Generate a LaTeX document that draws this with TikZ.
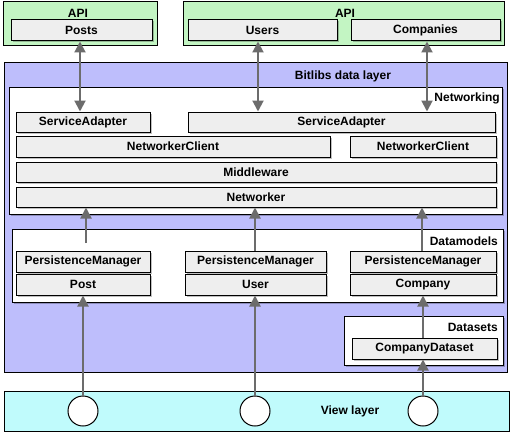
\documentclass[tikz,border=0pt]{standalone}
\usepackage{fontspec}
\setmainfont{Liberation Sans}
\usetikzlibrary{arrows.meta,shadows}
\definecolor{apigreen}{HTML}{C3F5C3}
\definecolor{dlblue}{HTML}{BEBEFC}
\definecolor{viewcyan}{HTML}{C0FBFC}
\definecolor{boxgray}{HTML}{EEEEEE}
\definecolor{arrgray}{HTML}{6C6C6C}
\tikzset{
  shd/.style={drop shadow={shadow xshift=1.5pt, shadow yshift=-1.5pt, fill=black, opacity=0.25}},
  box/.style={draw=black, line width=1pt, fill=boxgray, shd, inner sep=0pt,
    font=\fontsize{12}{14}\selectfont\bfseries},
  cont/.style={draw=black, line width=1pt, fill=white, shd, inner sep=0pt},
  layer/.style={draw=black, line width=1pt, inner sep=0pt},
  lbl/.style={font=\fontsize{12}{14}\selectfont\bfseries, inner sep=0pt},
  conn/.style={draw=arrgray, line width=2pt, -{Triangle[length=11pt,width=11pt]}},
  dconn/.style={draw=arrgray, line width=2pt, {Triangle[length=11pt,width=11pt]}-{Triangle[length=11pt,width=11pt]}},
  circ/.style={circle, draw=black, line width=1pt, fill=white, minimum size=30pt, inner sep=0pt},
}
\newcommand{\bx}[7]{% style, name, x1, y1, x2, y2, text
  \node[#1, minimum width={(#5-#3)*1pt}, minimum height={(#6-#4)*1pt}] (#2) at ({(#3+#5)/2},{(#4+#6)/2}) {#7};}
\begin{document}
\begin{tikzpicture}[x=1pt,y=-1pt]
\useasboundingbox (0,0) rectangle (511,436);
% API layers
\bx{layer, fill=apigreen}{apiL}{3}{2}{157}{46}{}
\node[lbl] (apiLt) at (78,13) {API};
\bx{box}{posts}{11}{20}{152}{41}{Posts}
\bx{layer, fill=apigreen}{apiR}{183}{2}{504}{46}{}
\node[lbl] (apiRt) at (345,13) {API};
\bx{box}{users}{188}{20}{337}{41}{Users}
\bx{box}{companies}{351}{20}{500}{41}{Companies}
% data layer
\bx{layer, fill=dlblue}{bitlibs}{4}{63}{507}{372}{}
\node[lbl] (bitlibst) at (343,76) {Bitlibs data layer};
% networking
\bx{cont}{networking}{9}{87}{502}{214}{}
\node[lbl, anchor=east] (networkingt) at (500,98) {Networking};
\bx{box}{saL}{16}{112}{150}{132}{ServiceAdapter}
\bx{box}{saR}{188}{112}{495}{132}{ServiceAdapter}
\bx{box}{ncL}{16}{136}{330}{157}{NetworkerClient}
\bx{box}{ncR}{350}{136}{496}{157}{NetworkerClient}
\bx{box}{mw}{16}{162}{496}{182}{Middleware}
\bx{box}{nw}{16}{187}{496}{207}{Networker}
% datamodels
\bx{cont}{datamodels}{12}{229}{503}{302}{}
\node[lbl, anchor=east] (datamodelst) at (498,241) {Datamodels};
\bx{box}{pm1}{16}{251}{150}{272}{PersistenceManager}
\bx{box}{pm2}{185}{251}{326}{272}{PersistenceManager}
\bx{box}{pm3}{350}{251}{496}{272}{PersistenceManager}
\bx{box}{post}{16}{274}{150}{295}{Post}
\bx{box}{user}{185}{274}{326}{295}{User}
\bx{box}{company}{350}{274}{496}{295}{Company}
% datasets
\bx{cont}{datasets}{344}{316}{503}{365}{}
\node[lbl, anchor=east] (datasetst) at (498,327) {Datasets};
\bx{box}{cds}{352}{338}{497}{359}{CompanyDataset}
% view layer
\bx{layer, fill=viewcyan}{view}{4}{391}{509}{431}{}
\node[lbl] (viewt) at (350,411) {View layer};
\node[circ] (c1) at (83,411) {};
\node[circ] (c2) at (255,411) {};
\node[circ] (c3) at (423,411) {};
% connector x positions
\coordinate (xa) at (80,0);
\coordinate (xb) at (258,0);
\coordinate (xc) at (427,0);
\coordinate (xd) at (86,0);
\coordinate (xe) at (255,0);
\coordinate (xf) at (422,0);
\coordinate (dmstart) at (86,243);
% API connectors
\draw[dconn] (posts.south -| xa) -- (saL.north -| xa);
\draw[dconn] (users.south -| xb) -- (saR.north -| xb);
\draw[dconn] (companies.south -| xc) -- (saR.north -| xc);
% datamodels to networker
\draw[conn] (dmstart) -- (nw.south -| xd);
\draw[conn] (pm2.north -| xe) -- (nw.south -| xe);
\draw[conn] (pm3.north -| xf) -- (nw.south -| xf);
% view to models
\draw[conn] (c1.north) -- (post.south -| c1);
\draw[conn] (c2.north) -- (user.south -| c2);
\draw[conn] (c3.north) -- (cds.south -| c3);
\draw[conn] (cds.north -| c3) -- (company.south -| c3);
\end{tikzpicture}
\end{document}
